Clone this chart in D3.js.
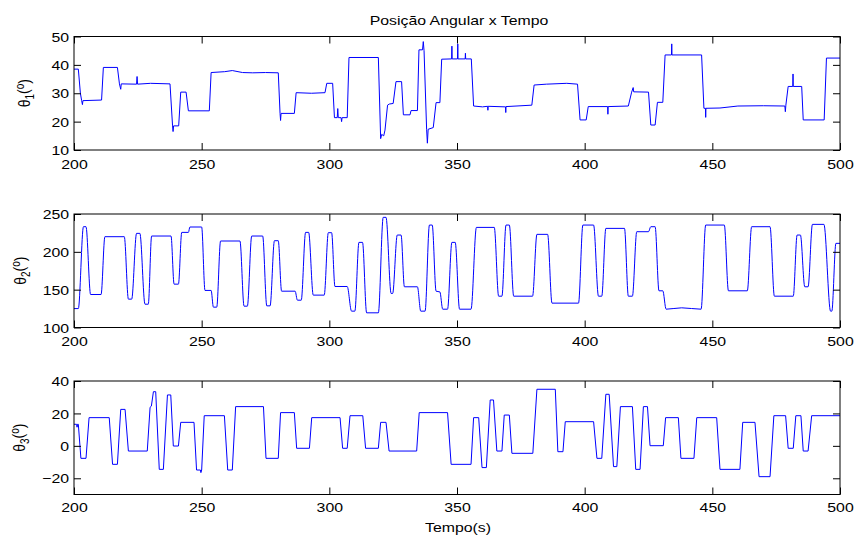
<!DOCTYPE html>
<html>
<head>
<meta charset="utf-8">
<script src="https://cdn.jsdelivr.net/npm/d3@7"></script>
<style>
  body { margin: 0; background: #fff; }
  svg text { font-family: "Liberation Sans", Arial, sans-serif; fill: #000; }
</style>
</head>
<body>
<div id="my_dataviz"></div>
<script>
// data //
const timeTicks = [200, 250, 300, 350, 400, 450, 500];
const theta1Ticks = [10, 20, 30, 40, 50];
const theta2Ticks = [100, 150, 200, 250];
const theta3Ticks = [-20, 0, 20, 40];

// [tempo (s), angulo (graus)]
const theta1 = [
  [200, 38.5], [201.7, 38.5], [202.5, 30], [203.0, 27.4], [203.3, 26], [203.5, 27.4], [210.8, 27.6],
  [211.5, 39.1], [217, 39.1], [217.8, 33.3], [218.3, 31.4], [218.5, 33.3], [224.5, 33.2], [224.7, 35.9],
  [224.9, 33.2], [230, 33.5], [237.6, 33.3], [238.6, 18.5], [238.8, 16.5], [239, 18.5], [241, 18.5],
  [241.8, 30.4], [243.9, 30.4], [244.8, 23.8], [253, 23.8], [253.7, 37.3], [259, 37.6], [262, 38],
  [266, 37.3], [270, 37.2], [275, 37.3], [280, 37.2], [280.7, 22.9], [280.9, 20.4], [281.1, 22.9],
  [286.3, 22.9], [287, 30.2], [293, 30], [298.3, 30.2], [299, 33.5], [301.3, 33.5], [302, 21.4],
  [303.1, 21.4], [303.3, 24.6], [303.5, 21.4], [304.6, 21.4], [304.8, 20], [305, 21.4], [307, 21.4],
  [307.7, 42.6], [319.2, 42.6], [320.1, 14.0], [320.5, 15.5], [321.3, 15.0], [321.8, 17], [322.8, 25.8],
  [323.5, 26.2], [325, 26.4], [326.1, 34.1], [328.3, 34.1], [329, 22.4], [331.6, 22.4], [332, 23.9],
  [334.5, 23.9], [335.1, 45.3], [336.5, 45.3], [336.8, 48.2], [337.1, 45], [338.1, 17.3], [338.4, 12.4],
  [338.7, 17.3], [340.7, 17.9], [341.8, 26.7], [343.3, 26.7], [344, 42], [347.9, 42.1], [348, 46.6],
  [348.1, 42.1], [350.2, 42.1], [350.3, 47.4], [350.4, 42.1], [353.2, 42.1], [353.3, 44.1], [353.4, 42.1],
  [355.6, 42.1], [356.5, 25.5], [360, 25.2], [362, 25.4], [362.1, 24], [362.2, 25.4], [369, 25.2],
  [369.1, 23.2], [369.2, 25.3], [379.3, 25.8], [380.2, 32.9], [385, 33.2], [393, 33.5], [397.2, 33.2],
  [398.2, 20.6], [400.6, 20.6], [401.4, 25.3], [409, 25.3], [409.1, 22.6], [409.2, 25.3], [417.1, 25.5],
  [418.4, 30.4], [419, 32], [419.2, 30.5], [425, 30.4], [425.9, 18.8], [427.6, 18.8], [428.5, 26.8],
  [430.6, 26.8], [431.5, 43.5], [434, 43.5], [434.1, 47.4], [434.2, 43.5], [445.8, 43.5], [446.7, 24.7],
  [447.3, 24.7], [447.4, 21.5], [447.5, 24.7], [453, 24.8], [460, 25.5], [470, 25.6], [478.4, 25.5],
  [478.6, 23.5], [478.8, 25.8], [479.7, 32.4], [481.5, 32.4], [481.6, 36.8], [481.7, 32.4], [485, 32.4],
  [485.6, 20.6], [493.8, 20.6], [494.7, 42.4], [500, 42.4]
];

const theta2 = [
  [200, 125], [201.7, 125], [203.7, 233.2], [204.7, 233.2], [206.5, 143.6], [210.6, 143.6], [212.1, 220],
  [219.7, 220], [221.3, 137.5], [222.6, 137.5], [224.5, 224.4], [225.8, 224.4], [227.8, 130.8],
  [229.1, 130.8], [230.4, 220.9], [238, 220.9], [239.2, 157.3], [240.9, 157.3], [242.2, 225.7],
  [244.8, 225.7], [245.4, 232.8], [250, 232.8], [251.3, 149], [253.7, 149], [254.6, 126.9], [255.9, 126.9],
  [257.4, 214.3], [265, 214.3], [266.6, 128.2], [267.9, 128.2], [269.6, 220.9], [273.9, 220.9],
  [275.5, 128.6], [276.8, 128.6], [278.5, 214.7], [280, 214.7], [281.3, 148], [286.6, 148], [287.5, 136.1],
  [289, 136.1], [290.7, 225.7], [291.9, 225.7], [293.7, 142.8], [298, 142.8], [299.6, 225.3],
  [300.9, 225.3], [302.2, 154.2], [307, 154.2], [308.7, 121.6], [310, 121.6], [311.6, 212.5], [313, 212.5],
  [314.6, 119.4], [319.2, 119.4], [321.1, 245.6], [322.2, 245.6], [324.2, 145], [324.8, 145],
  [326.6, 222.2], [328.1, 222.2], [329.4, 153.8], [334.5, 153.8], [335.8, 121.6], [337.5, 121.6],
  [339.2, 235.4], [340.3, 235.4], [341.8, 148], [343.3, 147], [344.4, 124.2], [346.3, 124.2], [348, 212.5],
  [349.3, 212.5], [351, 124.2], [355.5, 124.2], [357.6, 232.3], [364.6, 232.3], [366.3, 141.4],
  [367.6, 141.4], [369.2, 235.4], [370.5, 235.4], [372.2, 141.4], [379.6, 141.4], [381.3, 223.1],
  [385.5, 223.1], [387.2, 132.2], [397.6, 132.2], [399.3, 235.4], [403.5, 235.4], [405.4, 141.4],
  [406.7, 141.4], [408.3, 231], [415.6, 231], [417.1, 141.4], [418.7, 141.4], [420.4, 226.6], [425, 226.6],
  [425.9, 233.2], [427.6, 233.2], [429.1, 148.5], [430.6, 148.5], [431.9, 124.2], [438, 126],
  [445.6, 124.2], [447.4, 235.4], [454.7, 235.4], [456.3, 148.5], [463.7, 148.5], [465.4, 233.2],
  [472.6, 233.2], [474.3, 141.4], [481.7, 141.4], [483.2, 222.2], [484.5, 222.2], [486.2, 153.8],
  [487.5, 153.8], [489.2, 236.3], [493.7, 236.3], [496.3, 121.6], [496.8, 121.6], [498.4, 211.2],
  [500, 211.2]
];

const theta3 = [
  [200, 13.3], [201, 13.3], [201.2, 11.5], [201.4, 13.3], [201.7, 13.3], [202.7, -7.7], [204.7, -7.7],
  [205.9, 17.4], [213.8, 17.4], [215.1, -11.4], [217, -11.4], [218.3, 22.5], [220, 22.5], [221.3, -3.2],
  [228.7, -3.2], [229.8, 23.8], [230.3, 24.5], [231.1, 33.4], [232, 33.4], [233.4, -14.5], [235, -14.5],
  [236.6, 31.4], [237.9, 31.4], [238.9, -0.1], [240.9, -0.1], [241.8, 14.5], [247, 14.5], [248, -14.9],
  [249.5, -14.9], [249.7, -16.5], [250, -14.9], [251, 18.6], [258.9, 18.6], [260.2, -14.9], [262, -14.9],
  [263.3, 24.2], [274.2, 24.2], [275.2, -7.7], [280, -7.7], [280.9, 20.5], [286.3, 20.5], [287.2, -1.5],
  [292.2, -1.5], [293.1, 17.4], [304.2, 17.4], [305.2, -1.5], [307, -1.5], [308.1, 18.6], [313.1, 18.6],
  [314.2, -1.5], [319.2, -1.5], [320.1, 14.5], [322.2, 14.5], [323.4, -3.2], [334.2, -3.2], [335.2, 20.5],
  [346.3, 20.5], [347.7, -11.4], [355.5, -11.4], [356.5, 17.4], [358.5, 17.4], [359.8, -13.4],
  [361.5, -13.4], [363, 28.3], [364.3, 28.3], [365.6, -3.2], [367.6, -3.2], [368.5, 19], [370.5, 19],
  [371.5, -4.6], [379.7, -4.6], [381.3, 34.9], [388.5, 34.9], [389.5, -3.6], [391.5, -3.6], [392.4, 14.9],
  [403.5, 14.9], [404.8, -7.7], [406.7, -7.7], [408.3, 31.8], [409.6, 31.8], [411.3, -12.8], [412.6, -12.8],
  [414, 24.2], [418.7, 24.2], [420, -14.5], [421.7, -14.5], [423, 24.2], [424.6, 24.2], [425.6, 0.1],
  [430.8, 0.1], [431.7, 17.4], [436.7, 17.4], [437.7, -7.7], [442.8, -7.7], [443.9, 17.4], [451.7, 17.4],
  [453, -14.5], [460.8, -14.5], [461.9, 14.5], [466.7, 14.5], [468.3, -19], [472.6, -19], [474.1, 18.6],
  [478.7, 18.6], [479.7, -1.5], [481.7, -1.5], [482.7, 18.6], [484.7, 18.6], [485.6, -3.2], [487.5, -3.2],
  [488.9, 18.6], [500, 18.6]
];

// set dimensions //
const width = 856, height = 539;
const plotLeft = 74, plotRight = 840;
const panelH = 113.5;
const stretch = 1.22; // the exported figure is stretched sideways, so is its text
const fontSize = 13;

const svg = d3.select("#my_dataviz").append("svg")
  .attr("width", width)
  .attr("height", height);

const x = d3.scaleLinear()
  .domain([200, 500])
  .range([plotLeft, plotRight]);

const panels = [
  { data: theta1, ticks: theta1Ticks, domain: [10, 50], top: 36.5, sub: "1", labelX: 30, pad: 10, curve: d3.curveLinear },
  { data: theta2, ticks: theta2Ticks, domain: [100, 250], top: 214, sub: "2", labelX: 26, pad: 9, curve: d3.curveMonotoneX },
  { data: theta3, ticks: theta3Ticks, domain: [-30, 40], top: 381, sub: "3", labelX: 25, pad: 8.5, curve: d3.curveLinear }
];

panels.forEach(p => {
  const y = d3.scaleLinear()
    .domain(p.domain)
    .range([p.top + panelH, p.top]);

  const g = svg.append("g");

  // data line
  g.append("path")
    .datum(p.data)
    .attr("fill", "none")
    .attr("stroke", "#0000ff")
    .attr("stroke-width", 1)
    .attr("d", d3.line()
      .x(d => x(d[0]))
      .y(d => y(d[1]))
      .curve(p.curve));

  // bottom axis, ticks pointing in
  const bottom = g.append("g")
    .attr("transform", `translate(0,${p.top + panelH})`)
    .call(d3.axisBottom(x).tickValues(timeTicks).tickSizeInner(-7).tickSizeOuter(0)
      .tickPadding(p.pad).tickFormat(d3.format("d")));

  // top axis, ticks only
  const top = g.append("g")
    .attr("transform", `translate(0,${p.top})`)
    .call(d3.axisTop(x).tickValues(timeTicks).tickSizeInner(-7).tickSizeOuter(0).tickFormat(""));

  // left axis
  const left = g.append("g")
    .attr("transform", `translate(${plotLeft},0)`)
    .call(d3.axisLeft(y).tickValues(p.ticks).tickSizeInner(-7).tickSizeOuter(0).tickPadding(4));

  // right axis, ticks only
  const right = g.append("g")
    .attr("transform", `translate(${plotRight},0)`)
    .call(d3.axisRight(y).tickValues(p.ticks).tickSizeInner(-7).tickSizeOuter(0).tickFormat(""));

  [bottom, top, left, right].forEach(a => {
    a.select(".domain").remove();
    a.selectAll(".tick line").attr("stroke", "#000");
    a.attr("font-size", fontSize).attr("font-family", null);
  });
  bottom.selectAll(".tick text").attr("transform", `scale(${stretch},1)`);
  left.selectAll(".tick text").attr("transform", `scale(${stretch},1)`).attr("dy", "0.36em");

  // box
  g.append("rect")
    .attr("x", plotLeft)
    .attr("y", p.top)
    .attr("width", plotRight - plotLeft)
    .attr("height", panelH)
    .attr("fill", "none")
    .attr("stroke", "#000")
    .attr("stroke-width", 1);

  // y label: theta_n (^o)
  const label = g.append("text")
    .attr("text-anchor", "middle")
    .attr("font-size", 14)
    .attr("transform", `translate(${p.labelX},${p.top + panelH / 2}) scale(${stretch},1) rotate(-90)`);
  label.append("tspan").text("θ");
  label.append("tspan").attr("dy", "0.3em").attr("font-size", 10).text(p.sub);
  label.append("tspan").attr("dy", "-0.3em").text("(");
  label.append("tspan").attr("dy", "-0.4em").attr("font-size", 10).text("o");
  label.append("tspan").attr("dy", "0.4em").text(")");
});

// title
svg.append("text")
  .attr("text-anchor", "middle")
  .attr("font-size", fontSize)
  .attr("transform", `translate(459,25) scale(${stretch},1)`)
  .text("Posição Angular x Tempo");

// x label
svg.append("text")
  .attr("text-anchor", "middle")
  .attr("font-size", fontSize)
  .attr("transform", `translate(458,532) scale(${stretch},1)`)
  .text("Tempo(s)");
</script>
</body>
</html>
